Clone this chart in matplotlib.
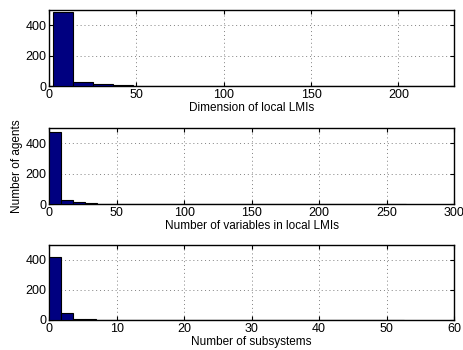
import numpy as np
import matplotlib.pyplot as plt

plt.rcParams['font.family'] = ['Liberation Sans', 'DejaVu Sans']
plt.rcParams['font.size'] = 8.5

# histogram counts
dim_start, dim_width = 2.0, 11.5
dim_counts = [485, 26, 12, 5, 2, 3, 1, 3, 1, 0, 1, 1, 0, 0, 0, 0, 0, 0, 0, 1]

var_start, var_width = 0.0, 8.8
var_counts = [475, 27, 13, 7, 3, 1, 3, 1, 1, 0, 0, 0, 1, 0, 0,
              0, 0, 0, 0, 0, 0, 0, 0, 0, 0, 0, 0, 0, 0, 1]

sub_start, sub_width = 0.0, 1.75
sub_counts = [422, 44, 9, 9, 2, 1, 1, 0, 0, 0, 0, 0, 0, 0, 0,
              0, 0, 0, 0, 0, 0, 0, 0, 0, 0, 0, 0, 0, 0, 1]

panels = [
    (dim_start, dim_width, dim_counts, 232, [0, 50, 100, 150, 200], 'Dimension of local LMIs'),
    (var_start, var_width, var_counts, 300, [0, 50, 100, 150, 200, 250, 300], 'Number of variables in local LMIs'),
    (sub_start, sub_width, sub_counts, 60, [0, 10, 20, 30, 40, 50, 60], 'Number of subsystems'),
]

fig = plt.figure(figsize=(4.63, 3.5), dpi=100)
rects = [[0.106, 0.754, 0.875, 0.217],
         [0.106, 0.417, 0.875, 0.217],
         [0.106, 0.086, 0.875, 0.214]]

for rect, (start, width, counts, xmax, xt, label) in zip(rects, panels):
    ax = fig.add_axes(rect)
    lefts = start + width * np.arange(len(counts))
    ax.bar(lefts, counts, width=width, align='edge', color='#000080',
           edgecolor='black', linewidth=0.8, zorder=3)
    ax.set_xlim(0, xmax)
    ax.set_ylim(0, 500)
    ax.set_xticks(xt)
    ax.set_yticks([0, 200, 400])
    ax.grid(True, linestyle=(0, (1, 3)), color='#808080', linewidth=0.7, zorder=0)
    ax.tick_params(direction='in', length=3, top=True, right=True, pad=2,
                   labelsize=9)
    for s in ax.spines.values():
        s.set_linewidth(1.0)
    ax.set_xlabel(label, labelpad=1)
    if rect is rects[1]:
        ax.set_ylabel('Number of agents', labelpad=2)

fig.savefig('out.png', dpi=100)
